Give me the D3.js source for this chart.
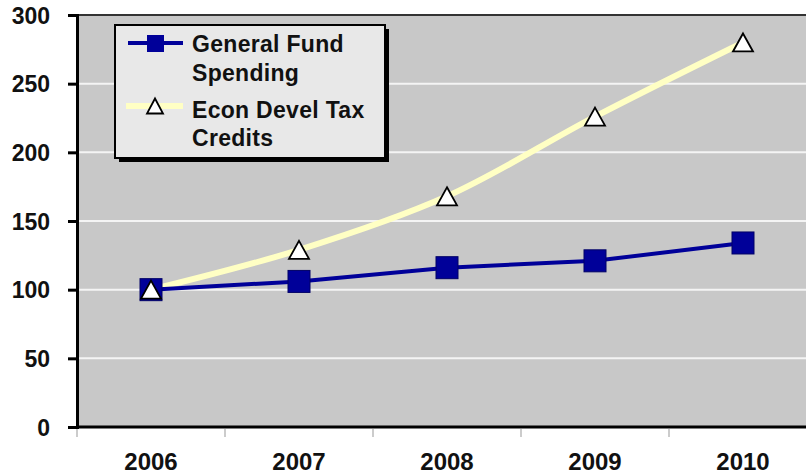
<!DOCTYPE html>
<html><head><meta charset="utf-8">
<script src="https://d3js.org/d3.v7.min.js"></script>
<style>body{margin:0;background:#fff}svg{display:block}</style>
</head><body>
<script>
const years = ["2006","2007","2008","2009","2010"];
const generalFund = [100, 106, 116, 121, 134];
const econDevel = [100, 129, 168, 226, 280];
const yTicks = [0, 50, 100, 150, 200, 250, 300];
const seriesNames = ["General Fund|Spending", "Econ Devel Tax|Credits"];

const W = 806, H = 476;
const svg = d3.select("body").append("svg").attr("width", W).attr("height", H);
const pLeft = 77, pTop = 15, pBottom = 427, pRight = 817;
const x = d3.scaleBand().domain(years).range([pLeft, pRight]);
const y = d3.scaleLinear().domain([0, 300]).range([pBottom, pTop]);
const FONT = "Liberation Sans, Arial, sans-serif";

svg.append("rect").attr("x", pLeft).attr("y", pTop).attr("width", pRight-pLeft).attr("height", pBottom-pTop).attr("fill", "#c8c8c8");
// grid
svg.append("g").selectAll("line").data(yTicks.filter(d=>d>0 && d<300)).join("line")
  .attr("x1", pLeft).attr("x2", pRight).attr("y1", d=>y(d)).attr("y2", d=>y(d))
  .attr("stroke", "#f4f4f4").attr("stroke-width", 2);
// top border
svg.append("line").attr("x1", pLeft).attr("x2", pRight).attr("y1", pTop).attr("y2", pTop).attr("stroke", "#333").attr("stroke-width", 2);

// y axis
const yAxis = d3.axisLeft(y).tickValues(yTicks).tickSize(9).tickPadding(18);
const gy = svg.append("g").attr("transform", `translate(${pLeft},0)`).call(yAxis);
gy.select(".domain").attr("stroke", "#000").attr("stroke-width", 3);
gy.selectAll(".tick line").attr("stroke", "#000").attr("stroke-width", 3);
gy.selectAll("text").attr("font-family", FONT).attr("font-weight", "bold").attr("font-size", 23).attr("fill", "#111").attr("dy", "0.35em");

// x axis
const gx = svg.append("g").attr("transform", `translate(0,${pBottom})`);
gx.append("line").attr("x1", pLeft).attr("x2", pRight).attr("stroke", "#000").attr("stroke-width", 3);
gx.selectAll("line.t").data(years.map(d=>x(d)).concat([pRight])).join("line").attr("class","t")
  .attr("x1", d=>d).attr("x2", d=>d).attr("y1", 2).attr("y2", 10).attr("stroke", "#999").attr("stroke-width", 1);
gx.selectAll("text").data(years).join("text")
  .attr("x", d=>x(d)+x.bandwidth()/2).attr("y", 43).attr("text-anchor", "middle")
  .attr("font-family", FONT).attr("font-weight", "bold").attr("font-size", 24).attr("fill", "#111")
  .text(d=>d);

const cx = d => x(d) + x.bandwidth()/2;

// econ line
const lineSmooth = d3.line().x((d,i)=>cx(years[i])).y(d=>y(d)).curve(d3.curveCatmullRom.alpha(0.5));
svg.append("path").datum(econDevel).attr("d", lineSmooth).attr("fill", "none").attr("stroke", "#ffffc4").attr("stroke-width", 6);
// general fund line
const lineStraight = d3.line().x((d,i)=>cx(years[i])).y(d=>y(d));
svg.append("path").datum(generalFund).attr("d", lineStraight).attr("fill", "none").attr("stroke", "#000099").attr("stroke-width", 4);
// squares
const sq = 22;
svg.append("g").selectAll("rect").data(generalFund).join("rect")
  .attr("x", (d,i)=>cx(years[i])-sq/2).attr("y", d=>y(d)-sq/2).attr("width", sq).attr("height", sq)
  .attr("fill", "#000099").attr("stroke", "#000066").attr("stroke-width", 1);
// triangles
const tri = (w,h) => `M0,${-h/2}L${w/2},${h/2}L${-w/2},${h/2}Z`;
svg.append("g").selectAll("path").data(econDevel).join("path")
  .attr("transform", (d,i)=>`translate(${cx(years[i])},${y(d)})`)
  .attr("d", tri(20,18)).attr("fill", "#fff").attr("stroke", "#000").attr("stroke-width", 1.8);

// legend
const lg = svg.append("g");
lg.append("rect").attr("x", 119).attr("y", 29).attr("width", 270).attr("height", 133).attr("fill", "#000");
lg.append("rect").attr("x", 115).attr("y", 25).attr("width", 270).attr("height", 133).attr("fill", "#e8e8e8").attr("stroke", "#000").attr("stroke-width", 2);
lg.append("line").attr("x1", 128).attr("x2", 183).attr("y1", 43).attr("y2", 43).attr("stroke", "#000099").attr("stroke-width", 4);
lg.append("rect").attr("x", 147).attr("y", 35).attr("width", 17).attr("height", 17).attr("fill", "#000099");
lg.append("line").attr("x1", 126).attr("x2", 183).attr("y1", 106).attr("y2", 106).attr("stroke", "#ffffc4").attr("stroke-width", 6);
lg.append("path").attr("transform", "translate(155,106)").attr("d", tri(16,15)).attr("fill", "#fff").attr("stroke", "#000").attr("stroke-width", 1.8);
const lines = seriesNames.flatMap(s=>s.split("|"));
const ys = [52, 81, 118, 146];
lg.selectAll("text").data(lines).join("text").attr("x", 192).attr("y", (d,i)=>ys[i])
  .attr("font-family", FONT).attr("font-weight", "bold").attr("font-size", 23).attr("letter-spacing", 0.3).attr("fill", "#111").text(d=>d);
</script>
</body></html>
